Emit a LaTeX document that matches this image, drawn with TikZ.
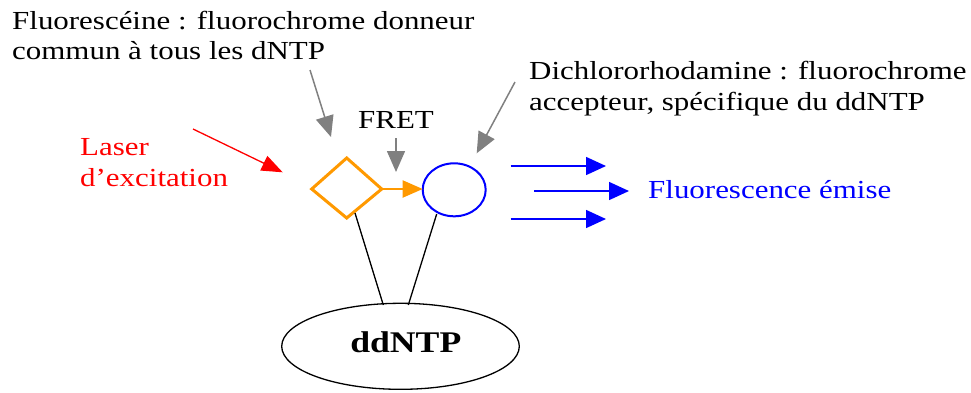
\documentclass[tikz,border=0pt]{standalone}
\usepackage{fontspec}
\setmainfont{Liberation Serif}
\usetikzlibrary{arrows.meta}
\definecolor{fretorange}{RGB}{255,153,0}
\definecolor{pointergray}{RGB}{128,128,128}
\definecolor{laserred}{RGB}{255,0,0}
\definecolor{emitblue}{RGB}{0,0,255}
% wide text: the labels are set slightly stretched horizontally
\newcommand{\widetxt}[1]{\scalebox{1.19}[1]{#1}}
\tikzset{
  label text/.style={inner sep=0pt, anchor=base west, font=\fontsize{26}{31}\selectfont},
  pointer/.style={draw=pointergray, line width=1.5pt, -{Triangle[length=21pt,width=18pt]}},
  laser/.style={draw=laserred, line width=1.3pt, -{Triangle[length=21pt,width=16pt]}},
  emission/.style={draw=emitblue, line width=1.5pt, -{Triangle[length=20pt,width=18pt]}},
  transfer/.style={draw=fretorange, line width=2pt, -{Triangle[length=20pt,width=17pt]}},
  linker/.style={draw=black, line width=1.3pt},
}
\begin{document}
\begin{tikzpicture}[x=1pt, y=-1pt]
\useasboundingbox (0,0) rectangle (971,392);

% donor (diamond) and acceptor (circle)
\coordinate (dl) at (311.7,189);
\coordinate (dr) at (381.7,189);
\coordinate (dt) at (346.7,158);
\coordinate (db) at (346.7,218);
\draw[fretorange, line width=3pt, line join=miter] (dl) -- (dt) -- (dr) -- (db) -- cycle;
\draw[emitblue, line width=2pt] (454.2,189.8) ellipse [x radius=31.5, y radius=26.5];
\coordinate (cl) at (422.7,189);

% ddNTP
\draw[black, line width=1.3pt] (400.5,346.3) ellipse [x radius=118.8, y radius=43];
\node[inner sep=0pt, anchor=base, font=\fontsize{30}{34}\selectfont\bfseries] (nuc) at (405.8,352.5) {\widetxt{ddNTP}};

% linkers from the dyes to the nucleotide
\coordinate (l1a) at (355,213);
\coordinate (l1b) at (383.3,305);
\coordinate (l2a) at (436.7,214);
\coordinate (l2b) at (408.3,305);
\draw[linker] (l1a) -- (l1b);
\draw[linker] (l2a) -- (l2b);

% labels
\node[label text] (donor) at (12,29) {\widetxt{Fluorescéine : fluorochrome donneur}};
\node[label text] (donor2) at (12,59.5) {\widetxt{commun à tous les dNTP}};
\node[label text] (acc) at (529,79.3) {\widetxt{Dichlororhodamine : fluorochrome}};
\node[label text] (acc2) at (529,110.5) {\widetxt{accepteur, spécifique du ddNTP}};
\node[label text] (fret) at (358,128.3) {\widetxt{FRET}};
\node[label text, text=laserred] (las) at (80,155) {\widetxt{Laser}};
\node[label text, text=laserred] (las2) at (80,186.7) {\widetxt{d’excitation}};
\node[label text, text=emitblue] (emi) at (648,198.5) {\widetxt{Fluorescence émise}};

% arrows
\coordinate (p1s) at (310,70);   \coordinate (p1e) at (331,137);
\coordinate (p2s) at (396,138);  \coordinate (p2e) at (396,172);
\coordinate (p3s) at (515,82);   \coordinate (p3e) at (476.7,153.3);
\coordinate (rs) at (193,129);   \coordinate (re) at (282.7,172.3);
\draw[pointer] (p1s) -- (p1e);
\draw[pointer] (p2s) -- (p2e);
\draw[pointer] (p3s) -- (p3e);
\draw[laser] (rs) -- (re);
\draw[transfer] (dr) -- (cl);

\coordinate (e1s) at (510.7,166); \coordinate (e1e) at (606,166);
\coordinate (e2s) at (534,191);   \coordinate (e2e) at (629,191);
\coordinate (e3s) at (510.7,219); \coordinate (e3e) at (606,219);
\draw[emission] (e1s) -- (e1e);
\draw[emission] (e2s) -- (e2e);
\draw[emission] (e3s) -- (e3e);
\end{tikzpicture}
\end{document}
